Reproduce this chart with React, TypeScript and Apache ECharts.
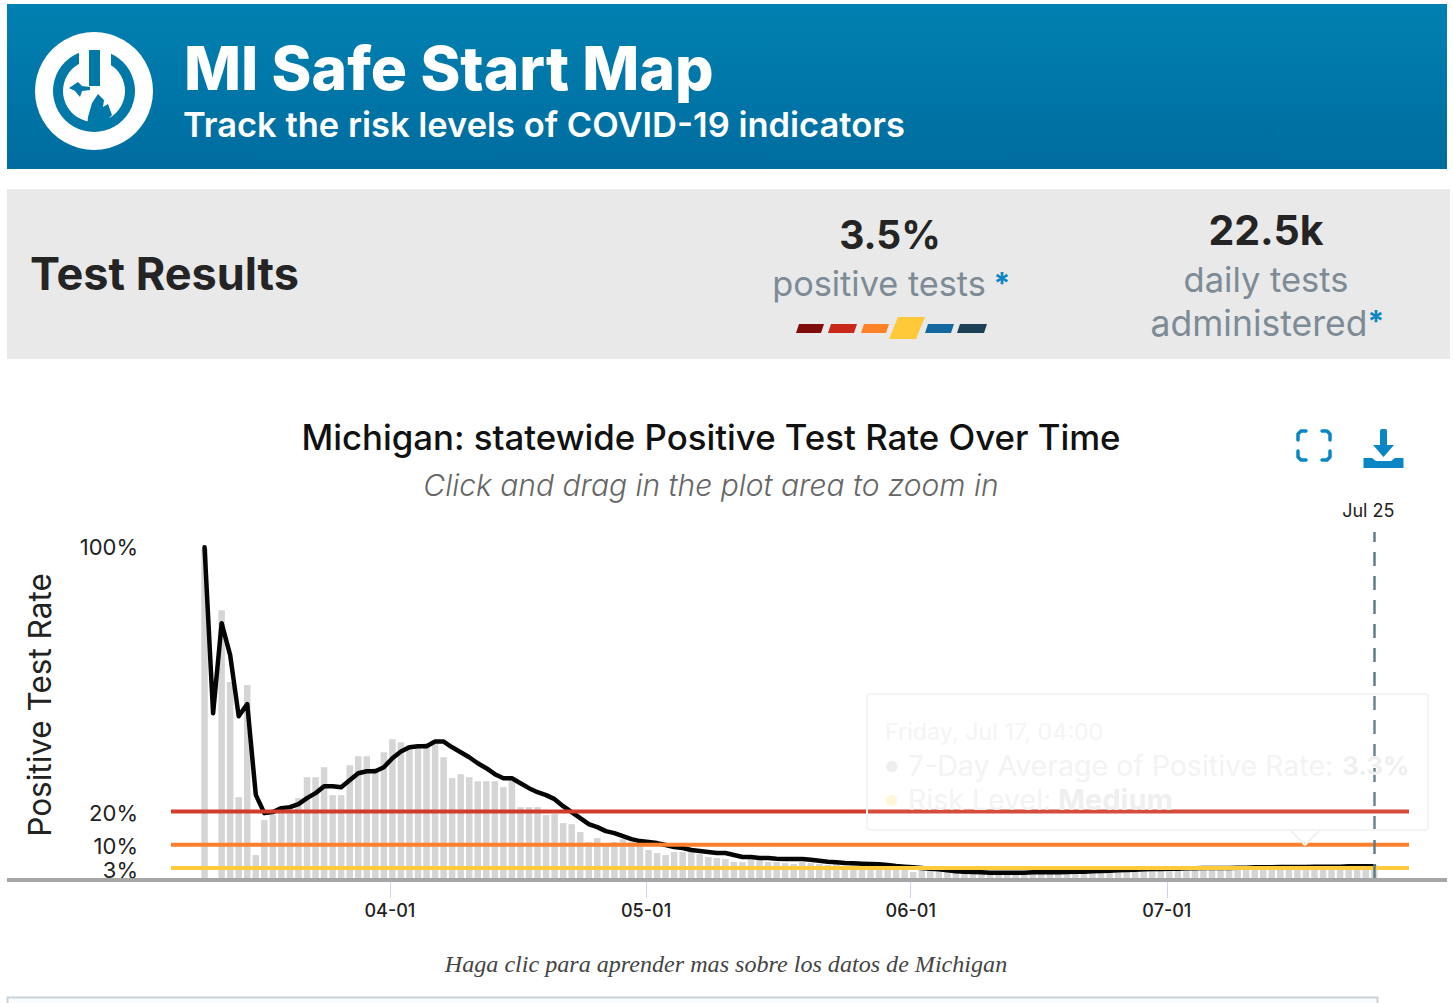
import React, { useEffect, useRef } from "react";
import * as echarts from "echarts";

const FONT = "Inter, 'Noto Sans', sans-serif";
const DAY = 86400000;
const START = Date.UTC(2020, 2, 10, 7);
const X_MIN = Date.UTC(2020, 2, 6, 8, 40);
const X_MAX = Date.UTC(2020, 6, 29, 8, 40);
const LAST_DAY = Date.UTC(2020, 6, 25, 7);

const monthTicks = [Date.UTC(2020, 3, 1), Date.UTC(2020, 4, 1), Date.UTC(2020, 5, 1), Date.UTC(2020, 6, 1)];
const yTicks = [3, 10, 20, 100];
const thresholds = [
  { value: 20, color: "#d23c2c" },
  { value: 10, color: "#ff7f2a" },
  { value: 3, color: "#ffcb3d" },
];

const dailyRate = [
  99, 0, 80.5, 58.9, 24.3, 58, 6.9, 17.4, 19, 20.4, 21, 24, 30.3, 30.3, 33.3, 24.9, 24.9, 33.9, 36.6, 36.6,
  33, 37.8, 41.7, 40.8, 39.9, 39.9, 40.5, 41.4, 36.3, 30, 31.2, 30.3, 29.1, 29.1, 29.1, 27.3, 29.4, 21.3, 21.3, 21.3,
  18.9, 19.2, 16.5, 16.2, 13.8, 10.8, 12, 10.5, 10.8, 11.7, 10.8, 10.5, 8.4, 7.5, 6.9, 7.8, 7.8, 7.8, 7.2, 6.3,
  6, 5.7, 4.8, 4.8, 5.7, 5.4, 4.8, 4.8, 4.5, 4.2, 4.8, 4.5, 4.2, 3.9, 4.2, 3.6, 3.9, 3.6, 3.3, 3.9,
  3.6, 3.3, 3, 1.8, 2.7, 2.4, 2.1, 2.4, 1.8, 2.1, 1.8, 1.5, 1.8, 1.5, 1.8, 2.1, 1.8, 1.5, 1.8, 2.1,
  1.8, 2.1, 2.4, 2.1, 1.8, 2.4, 2.1, 2.4, 2.7, 2.4, 2.1, 2.7, 2.4, 2.7, 3, 2.7, 2.4, 3, 2.7, 3,
  3.3, 2.7, 3, 3.3, 3, 2.7, 3.3, 3, 3.3, 3.6, 3, 3.3, 3.6, 3.3, 3, 3.6, 3.4, 3.5,
];

const sevenDayAverage = [
  99.4, 49.5, 76.6, 67, 48.6, 52.3, 25, 19.5, 19.8, 21, 21.3, 22.2, 24, 25.5, 27.6, 27.6, 27.3, 29.4, 31.5, 32.1,
  32.1, 33.3, 36, 38, 39.3, 39.6, 39.6, 41, 41, 39.3, 37.8, 36.3, 34.5, 33, 31.2, 30, 30, 28.5, 27, 25.8,
  24.9, 23.7, 21.6, 19.8, 18, 16.2, 15.3, 14.1, 13.5, 12.6, 11.7, 11.1, 10.8, 10.5, 9.9, 9.3, 9, 8.4, 8.1, 7.8,
  7.5, 7.5, 6.9, 6.3, 6.3, 6, 6, 5.8, 5.7, 5.7, 5.7, 5.5, 5.2, 4.9, 4.7, 4.5, 4.4, 4.3, 4.2, 4.1,
  3.9, 3.6, 3.4, 3.2, 3, 2.8, 2.6, 2.3, 2, 1.9, 1.8, 1.7, 1.6, 1.6, 1.6, 1.6, 1.6, 1.7, 1.7, 1.7,
  1.7, 1.8, 1.9, 1.9, 2, 2.1, 2.2, 2.3, 2.4, 2.5, 2.6, 2.7, 2.7, 2.8, 2.8, 2.9, 2.9, 3, 3, 3,
  3, 3.1, 3.1, 3.2, 3.2, 3.2, 3.3, 3.3, 3.3, 3.3, 3.4, 3.4, 3.4, 3.4, 3.5, 3.5, 3.5, 3.5,
];

const severityBars = [
  { x: 796, w: 25, top: 324, bottom: 333, shift: 3, color: "#7f0b0b" },
  { x: 828, w: 26, top: 324, bottom: 333, shift: 3, color: "#c9281a" },
  { x: 861, w: 25, top: 324, bottom: 333, shift: 3, color: "#ff8126" },
  { x: 889, w: 27, top: 317, bottom: 339, shift: 9, color: "#ffc93a" },
  { x: 925, w: 26, top: 324, bottom: 333, shift: 3, color: "#14689f" },
  { x: 957, w: 27, top: 324, bottom: 333, shift: 3, color: "#1d4056" },
];

const pair = (vals: number[]) => vals.map((v, i) => [START + i * DAY, v]);
const t = (text: string, x: number, y: number, font: string, fill: string, textAlign = "center", z = 5) => ({
  type: "text",
  x,
  y,
  z,
  silent: true,
  style: { text, font, fill, textAlign, textVerticalAlign: "middle" },
});
const BLUE = "#0a86c4";
const corner = (points: number[][]) => ({
  type: "polyline",
  z: 5,
  shape: { points },
  style: { stroke: BLUE, lineWidth: 3.5, fill: "none", lineCap: "round", lineJoin: "round" },
});

export default function App() {
  const ref = useRef<HTMLDivElement>(null);
  useEffect(() => {
    document.body.style.margin = "0";
    const chart = echarts.init(ref.current!, undefined, { renderer: "svg" });
    const headerBlue = "#0079a9";
    chart.setOption({
      animation: false,
      backgroundColor: "#fff",
      grid: { left: 171, top: 532, width: 1238, height: 346 },
      title: {
        text: "Michigan: statewide Positive Test Rate Over Time",
        subtext: "Click and drag in the plot area to zoom in",
        left: 706,
        top: 414,
        textAlign: "center",
        itemGap: 16,
        textStyle: { fontFamily: FONT, fontSize: 34.8, fontWeight: 500, color: "#111" },
        subtextStyle: { fontFamily: FONT, fontSize: 30, fontStyle: "italic", fontWeight: 300, color: "#666" },
      },
      xAxis: {
        type: "value",
        min: X_MIN,
        max: X_MAX,
        axisLine: { show: false },
        splitLine: { show: false },
        axisTick: { show: true, length: 20, lineStyle: { color: "#ccd6eb", width: 1 }, customValues: monthTicks },
        axisLabel: {
          customValues: monthTicks,
          margin: 23,
          fontFamily: FONT,
          fontSize: 18,
          fontWeight: 500,
          color: "#222",
          formatter: (v: number) => {
            const d = new Date(v);
            return `${String(d.getUTCMonth() + 1).padStart(2, "0")}-${String(d.getUTCDate()).padStart(2, "0")}`;
          },
        },
      },
      yAxis: {
        type: "value",
        min: 0,
        max: 104,
        name: "Positive Test Rate",
        nameLocation: "middle",
        nameGap: 116,
        nameTextStyle: { fontFamily: FONT, fontSize: 31.5, color: "#222" },
        axisLine: { show: false },
        axisTick: { show: false },
        splitLine: { show: false },
        axisLabel: {
          customValues: yTicks,
          margin: 33,
          color: "#222",
          formatter: (v: number) => `{l|${v}%}`,
          rich: {
            l: { fontFamily: FONT, fontSize: 22, color: "#222", padding: [3, 0, 0, 0] },
          },
        },
      },
      series: [
        {
          name: "Daily positive rate",
          type: "bar",
          data: pair(dailyRate),
          barWidth: 6.5,
          itemStyle: { color: "#d5d5d5" },
          z: 1,
        },
        {
          name: "7-Day Average of Positive Rate",
          type: "line",
          data: pair(sevenDayAverage),
          symbol: "none",
          lineStyle: { color: "#050505", width: 4.5, join: "round", cap: "round" },
          z: 2,
          markLine: {
            silent: true,
            symbol: "none",
            data: [{ xAxis: LAST_DAY }],
            lineStyle: { color: "#5f7c89", width: 2.5, type: [14, 10] },
            label: {
              show: true,
              position: "end",
              formatter: "Jul 25",
              fontFamily: FONT,
              fontSize: 18,
              color: "#222",
              distance: 13,
              offset: [-6, 0],
            },
          },
        },
        ...thresholds.map((th) => ({
          name: `${th.value}%`,
          type: "line",
          data: [[X_MIN, th.value], [X_MAX, th.value]],
          symbol: "none",
          lineStyle: { color: th.color, width: 4 },
          z: 3,
        })),
      ],
      graphic: [
        // banner
        {
          type: "rect",
          z: 1,
          shape: { x: 7, y: 4, width: 1440, height: 165 },
          style: {
            fill: new echarts.graphic.LinearGradient(0, 0, 0, 1, [
              { offset: 0, color: "#0081b1" },
              { offset: 1, color: "#006c9f" },
            ]),
          },
        },
        { type: "circle", z: 2, shape: { cx: 94, cy: 91, r: 59 }, style: { fill: "#fff" } },
        { type: "circle", z: 3, shape: { cx: 94, cy: 91, r: 41 }, style: { fill: headerBlue } },
        { type: "circle", z: 4, shape: { cx: 94, cy: 91, r: 31 }, style: { fill: "#fff" } },
        { type: "rect", z: 4, shape: { x: 79, y: 46, width: 32, height: 30 }, style: { fill: "#fff" } },
        { type: "rect", z: 5, shape: { x: 89, y: 50, width: 11, height: 36 }, style: { fill: headerBlue } },
        {
          type: "polygon",
          z: 5,
          shape: { points: [[69, 88], [78, 82], [82, 86], [90, 87], [90, 90], [82, 91], [80, 97], [75, 91]] },
          style: { fill: headerBlue },
        },
        {
          type: "polygon",
          z: 5,
          shape: { points: [[88, 117], [92, 103], [98, 94], [104, 100], [103, 107], [108, 104], [112, 115], [107, 120], [108, 128], [87, 128]] },
          style: { fill: headerBlue },
        },
        t("MI Safe Start Map", 184, 68, `800 60.5px ${FONT}`, "#fff", "left"),
        t("Track the risk levels of COVID-19 indicators", 183, 124, `600 34.5px ${FONT}`, "#fff", "left"),
        // summary panel
        { type: "rect", z: 1, shape: { x: 7, y: 189, width: 1443, height: 170 }, style: { fill: "#e9e9e9" } },
        t("Test Results", 30, 273, `700 45px ${FONT}`, "#242424", "left"),
        t("3.5%", 890, 234, `700 39px ${FONT}`, "#242424"),
        t("positive tests", 879, 283.5, `400 34.3px ${FONT}`, "#7c8b96"),
        t("*", 1002, 283, `700 30px ${FONT}`, BLUE),
        ...severityBars.map((b) => ({
          type: "polygon",
          z: 5,
          shape: {
            points: [[b.x + b.shift, b.top], [b.x + b.w + b.shift, b.top], [b.x + b.w, b.bottom], [b.x, b.bottom]],
          },
          style: { fill: b.color },
        })),
        t("22.5k", 1266, 230, `700 41px ${FONT}`, "#242424"),
        t("daily tests", 1266, 279.5, `400 34.5px ${FONT}`, "#7c8b96"),
        t("administered", 1259, 323, `400 35.5px ${FONT}`, "#7c8b96"),
        t("*", 1376, 321, `700 30px ${FONT}`, BLUE),
        // icons
        corner([[1298, 440], [1298, 434], [1301, 431], [1306, 431]]),
        corner([[1322, 431], [1327, 431], [1330, 434], [1330, 440]]),
        corner([[1298, 451], [1298, 457], [1301, 460], [1306, 460]]),
        corner([[1322, 460], [1327, 460], [1330, 457], [1330, 451]]),
        { type: "rect", z: 5, shape: { x: 1380, y: 429, width: 7, height: 18, r: 2 }, style: { fill: BLUE } },
        {
          type: "polygon",
          z: 5,
          shape: { points: [[1373, 445], [1394, 445], [1383.5, 457]] },
          style: { fill: BLUE },
        },
        {
          type: "polygon",
          z: 5,
          shape: { points: [[1363.5, 468], [1363.5, 458], [1372, 458], [1376, 461], [1391, 461], [1395, 458], [1403.5, 458], [1403.5, 468]] },
          style: { fill: BLUE },
        },
        // axis baseline
        { type: "rect", z: 10, shape: { x: 7, y: 878, width: 1440, height: 4 }, style: { fill: "#a6a6a6" } },
        // fading tooltip
        {
          type: "rect",
          z: 20,
          shape: { x: 867, y: 694, width: 561, height: 136, r: 3 },
          style: { fill: "rgba(255,255,255,0.08)", stroke: "#f4f4f4", lineWidth: 2 },
        },
        {
          type: "polyline",
          z: 20,
          shape: { points: [[1290, 830], [1305, 845], [1320, 830]] },
          style: { stroke: "#f1f1f1", lineWidth: 2, fill: "none" },
        },
        t("Friday, Jul 17, 04:00", 885, 731, `400 23.3px ${FONT}`, "#f4f4f4", "left", 20),
        t("●", 885, 766, `400 15px ${FONT}`, "#eeeeee", "left", 20),
        t("7-Day Average of Positive Rate:", 908, 765, `400 28.5px ${FONT}`, "#f3f3f3", "left", 20),
        t("3.3%", 1342, 765, `700 26px ${FONT}`, "#efefef", "left", 20),
        t("●", 885, 800, `400 15px ${FONT}`, "#fff5d8", "left", 20),
        t("Risk Level:", 908, 799, `400 28.5px ${FONT}`, "#f3f3f3", "left", 20),
        t("Medium", 1058, 799, `700 29px ${FONT}`, "#efefef", "left", 20),
        // footer
        t("Haga clic para aprender mas sobre los datos de Michigan", 726, 964, "italic 400 24.1px 'Liberation Serif', serif", "#444", "center"),
        { type: "rect", z: 1, shape: { x: 7.5, y: 997.5, width: 1370, height: 20 }, style: { fill: "#fafbfc", stroke: "#c8d3dc", lineWidth: 2 } },
      ],
    });
    return () => chart.dispose();
  }, []);
  return <div ref={ref} style={{ position: "absolute", left: 0, top: 0, width: 1453, height: 1003 }} />;
}
